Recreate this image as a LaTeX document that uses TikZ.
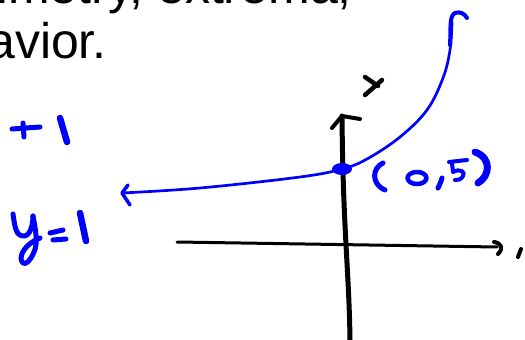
\documentclass[tikz,border=0pt]{standalone}
\usepackage{fontspec}
\setmainfont{Liberation Sans}
\begin{document}
\begin{tikzpicture}[x=1pt,y=-1pt,line cap=round,line join=round,
  txt/.style={anchor=base east,inner sep=0pt,font=\fontsize{50}{50}\selectfont},
  ink/.style={blue,line width=5pt},
  thick ink/.style={blue,line width=6.5pt},
  curve/.style={blue,line width=2.7pt},
  axis/.style={black,line width=3pt},
  yaxis/.style={black,line width=5pt},
  pen/.style={black,line width=4.5pt}]
\useasboundingbox (0,0) rectangle (525,340);
\clip (0,0) rectangle (525,340);
% cut-off text
\node[txt] (line1) at (352,3) {symmetry, extrema,};
\node[txt] (line2) at (107,58) {behavior.};
% x-axis
\coordinate (xa) at (177,242);
\coordinate (xb) at (497,247);
\draw[axis] (xa) -- (xb);
\draw[pen,line width=4pt] (494,242) .. controls (501,243) and (504,248) .. (498,254);
\draw[pen,line width=4pt] (521,249) -- (518,257);
% y-axis
\coordinate (ya) at (342,116);
\coordinate (yb) at (350,340);
\draw[yaxis] (ya) .. controls (343,230) and (349,270) .. (yb);
\draw[pen,line width=4pt] (332,128) -- (ya) -- (360,119);
\draw[pen] (365,77) -- (378,86);
\draw[pen] (382,80) -- (365,95);
% blue curve
\coordinate (tipL) at (122,193);
\coordinate (p0) at (342,169);
\draw[curve] plot[smooth,tension=0.6] coordinates {(tipL) (200,188) (300,177) (p0) (367,159) (400,137) (427,110) (443,78) (450,50) (452,22)};
\draw[blue,line width=4pt] (450,45) .. controls (451,28) and (449,16) .. (455,13) .. controls (460,11) and (465,14) .. (467,18);
\draw[blue,line width=3.5pt] (128,185) -- (tipL) -- (130,205);
\fill[blue] (p0) ellipse [x radius=10pt,y radius=6pt];
% (0,5)
\draw[ink] (383,163) .. controls (372,168) and (371,184) .. (385,190);
\draw[ink,line width=4.5pt] (417,178) ellipse [x radius=9.5pt,y radius=6pt];
\draw[ink] (442,178) .. controls (441,182) and (439,186) .. (438,188);
\draw[ink,line width=4pt] (449,162) -- (467,160);
\draw[ink,line width=4pt] (452,163) -- (453,172) .. controls (460,168) and (466,172) .. (463,176) .. controls (461,180) and (458,180) .. (455,180);
\draw[thick ink,line width=7pt] (475,152) .. controls (492,158) and (490,176) .. (478,183);
% +1
\draw[ink] (12,129) -- (40,127);
\draw[ink] (23,123) -- (24,137);
\draw[thick ink] (60,118) -- (67,142);
% y=1
\draw[ink] (13,214) .. controls (15,228) and (16,236) .. (24,236) .. controls (30,236) and (33,225) .. (33,216);
\draw[ink] (33,216) .. controls (36,232) and (38,244) .. (34,252) .. controls (30,262) and (23,268) .. (21,259) .. controls (21,250) and (30,242) .. (40,238);
\draw[ink] (50,233) -- (63,230);
\draw[ink] (53,240) -- (66,239);
\draw[thick ink] (80,213) -- (86,241);
\end{tikzpicture}
\end{document}
